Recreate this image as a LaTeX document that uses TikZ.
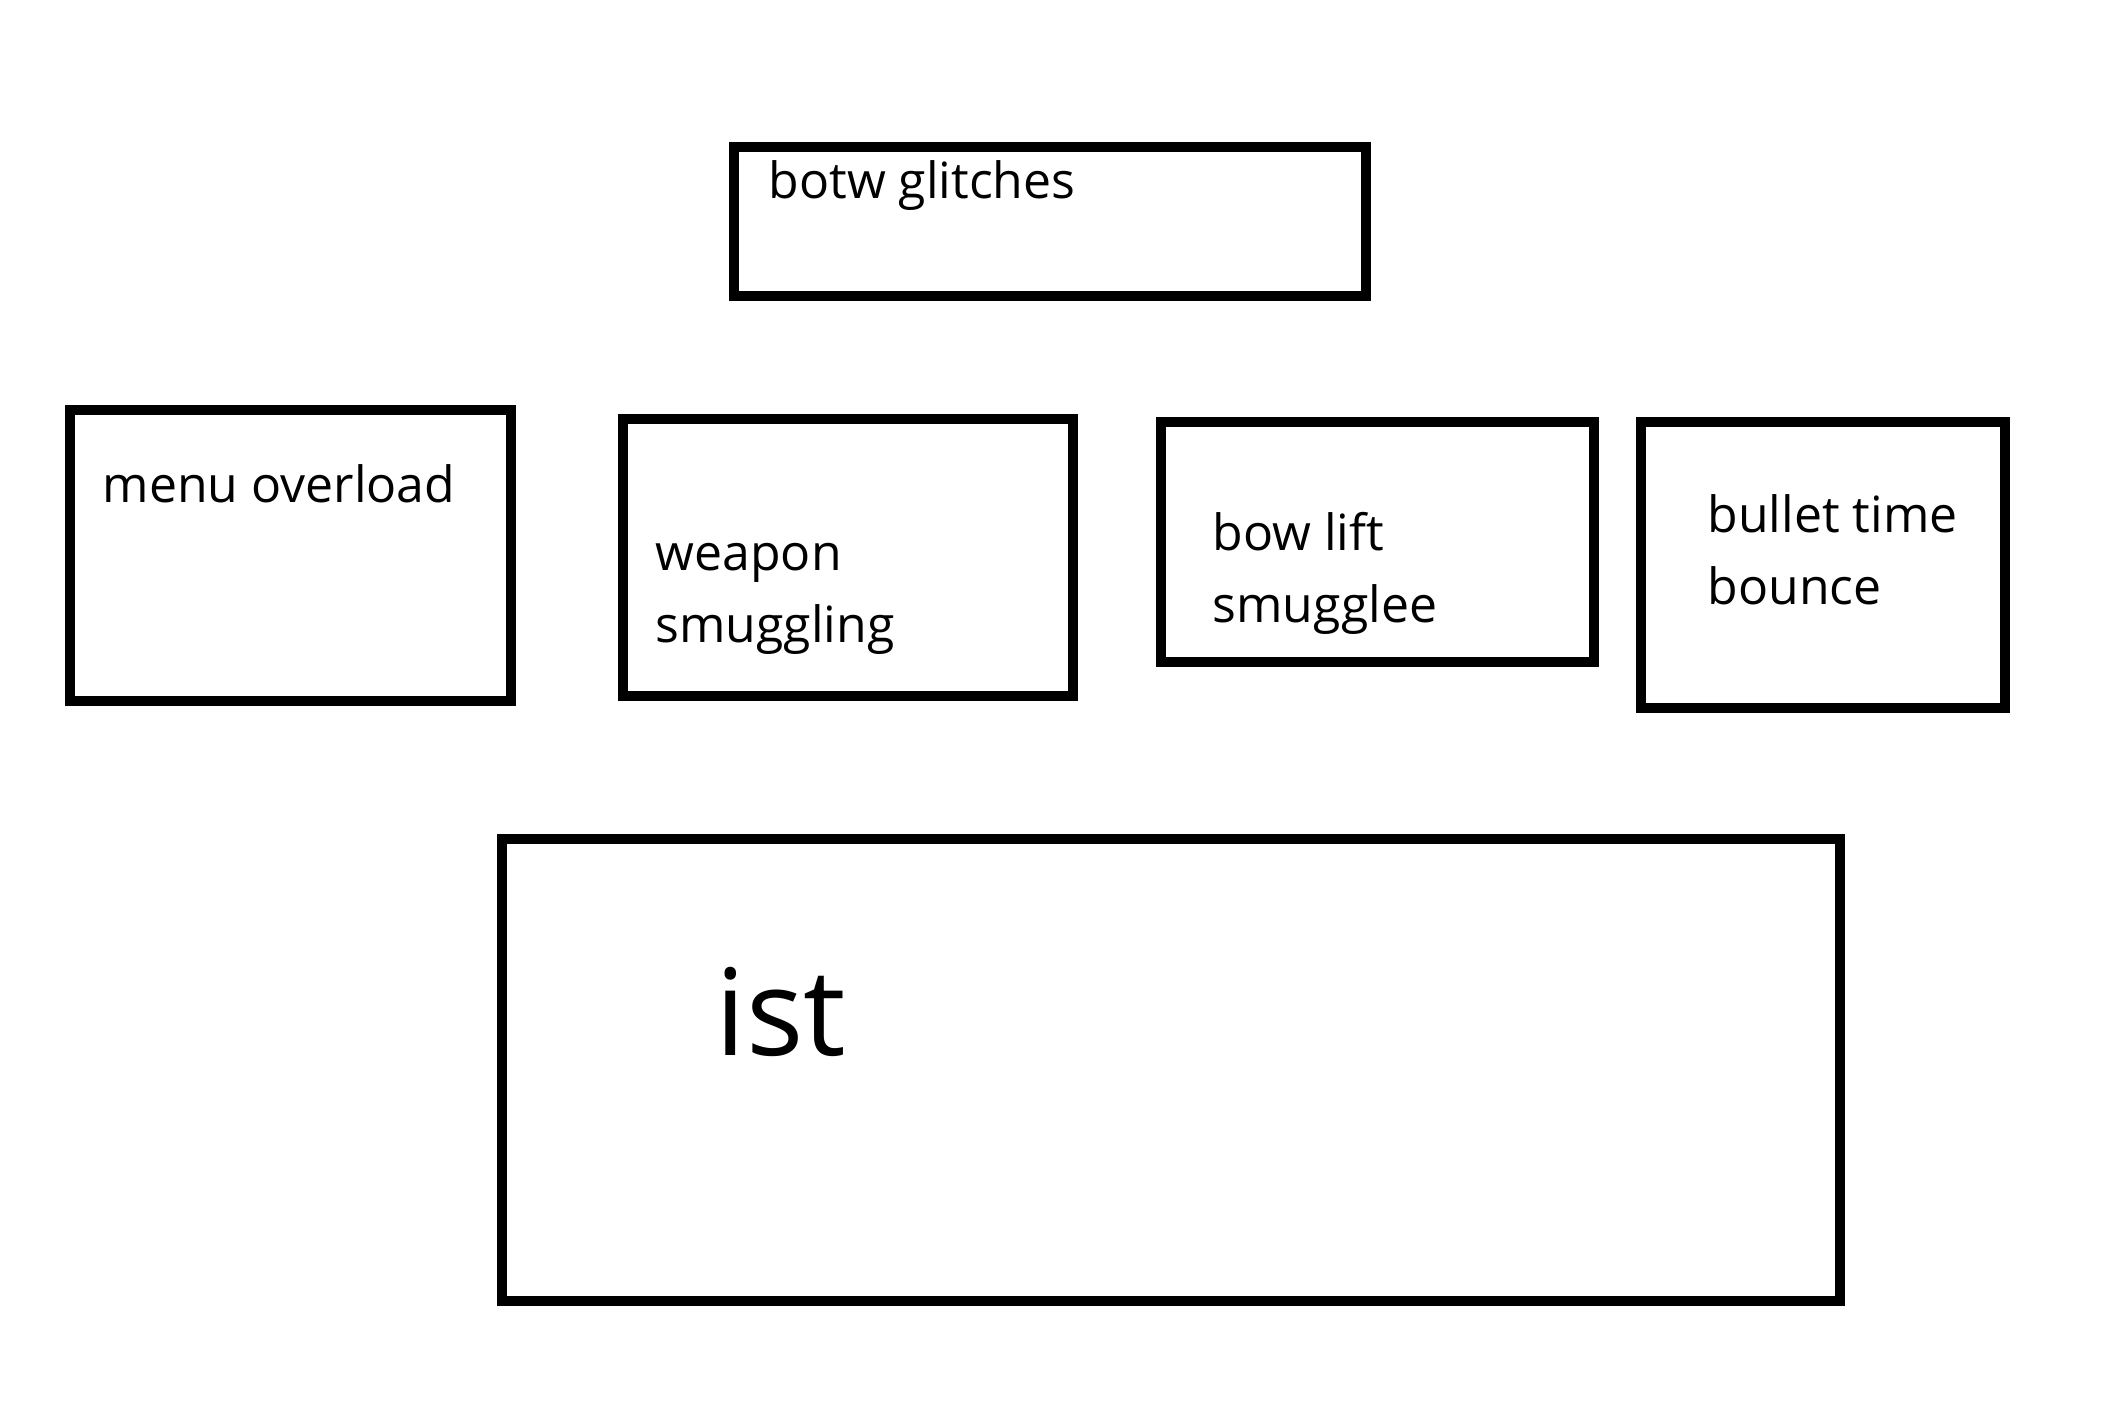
\documentclass[tikz,border=0pt]{standalone}
\usepackage{fontspec}
\setmainfont{Open Sans}
\begin{document}
\begin{tikzpicture}[x=0.01cm,y=-0.01cm]
\tikzstyle{box}=[rectangle,draw=black,line width=0.1cm,inner sep=0pt,outer sep=0pt]
\tikzstyle{txt}=[inner sep=0pt,align=left,font=\fontsize{14.2pt}{20.3pt}\selectfont]
\tikzstyle{bigTxt}=[inner sep=0pt,font=\fontsize{34.2pt}{40pt}\selectfont]

\useasboundingbox (0,0) rectangle (2112,1424);

%get boxes.
\node[box,minimum width=6.32cm,minimum height=1.49cm] (botwBox) at (1050,221.5) {};
\node[box,minimum width=4.41cm,minimum height=2.91cm] (menuBox) at (290.5,555.5) {};
\node[box,minimum width=4.50cm,minimum height=2.77cm] (weaponBox) at (848,557.5) {};
\node[box,minimum width=4.33cm,minimum height=2.40cm] (bowBox) at (1377.5,542) {};
\node[box,minimum width=3.64cm,minimum height=2.86cm] (bulletBox) at (1823,565) {};
\node[box,minimum width=13.38cm,minimum height=4.62cm] (istBox) at (1171,1070) {};

%get labels (base = last line).
\node[txt,anchor=base west] (botw) at (768,198) {botw glitches};
\node[txt,anchor=base west] (menu) at (102,502) {menu overload};
\node[txt,anchor=base west] (weapon) at (655,642) {weapon\\smuggling};
\node[txt,anchor=base west] (bow) at (1212,622) {bow lift\\smugglee};
\node[txt,anchor=base west] (bullet) at (1707,604) {bullet time\\bounce};
\node[bigTxt,anchor=base west] (ist) at (715,1055) {ist};

\end{tikzpicture}
\end{document}
